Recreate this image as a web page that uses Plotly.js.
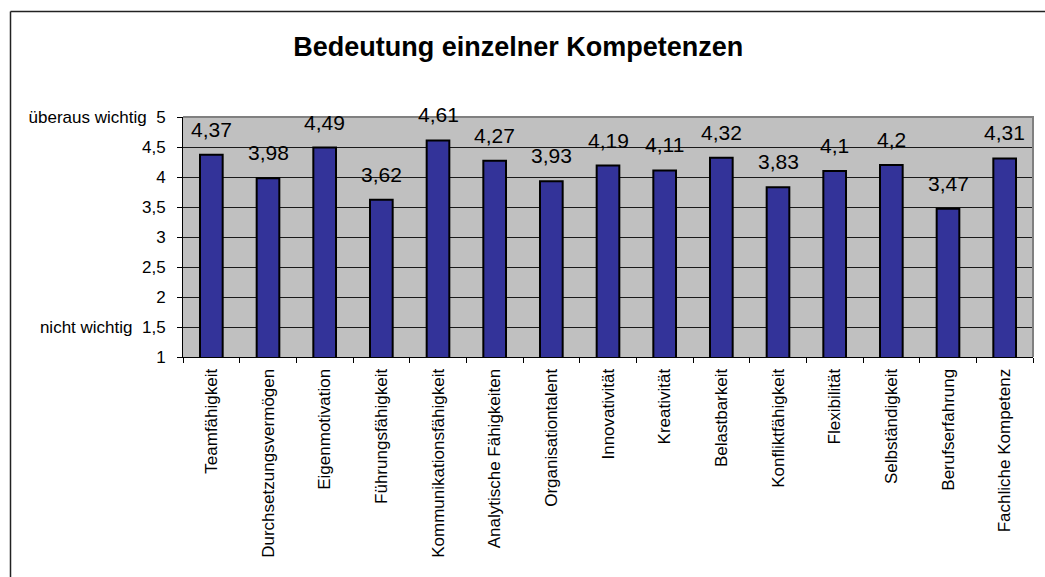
<!DOCTYPE html>
<html>
<head>
<meta charset="utf-8">
<script src="https://cdn.plot.ly/plotly-3.0.1.min.js"></script>
<style>html,body{margin:0;padding:0;background:#fff;}#chart{width:1045px;height:577px;}</style>
</head>
<body>
<div id="chart"></div>
<script>
const categories = ["Teamfähigkeit","Durchsetzungsvermögen","Eigenmotivation","Führungsfähigkeit","Kommunikationsfähigkeit","Analytische Fähigkeiten","Organisationtalent","Innovativität","Kreativität","Belastbarkeit","Konfliktfähigkeit","Flexibilität","Selbständigkeit","Berufserfahrung","Fachliche Kompetenz"];
const values = [4.37,3.98,4.49,3.62,4.61,4.27,3.93,4.19,4.11,4.32,3.83,4.1,4.2,3.47,4.31];
const yTickVals = [1,1.5,2,2.5,3,3.5,4,4.5,5];
const yTickText = ["1","nicht wichtig\u00a0\u00a01,5","2","2,5","3","3,5","4","4,5","überaus wichtig\u00a0\u00a05"];
const titleText = "Bedeutung einzelner Kompetenzen";

const fmt = v => String(v).replace('.', ',');

const trace = {
  type: 'bar',
  x: categories,
  y: values,
  base: 0,
  marker: {color: '#333399', line: {color: '#000000', width: 2}},
  hoverinfo: 'skip'
};

const annotations = categories.map((c, i) => ({
  x: c, y: values[i], xref: 'x', yref: 'y',
  text: fmt(values[i]), showarrow: false,
  yanchor: 'bottom', yshift: 12,
  font: {family: 'Arial, Liberation Sans, sans-serif', size: 21, color: '#000'}
}));

const L = 183, R = 1033, T = 117, B = 357;
const pw = R - L, ph = B - T;
const fx = px => (px - L) / pw;
const fy = py => (B - py) / ph;

const layout = {
  width: 1045, height: 577,
  margin: {l: L, r: 1045 - R, t: T, b: 577 - B, pad: 0},
  paper_bgcolor: '#ffffff',
  plot_bgcolor: '#c0c0c0',
  showlegend: false,
  bargap: 0.6,
  font: {family: 'Arial, Liberation Sans, sans-serif', color: '#000'},
  title: {
    text: '<b>' + titleText + '</b>',
    font: {family: 'Arial, Liberation Sans, sans-serif', size: 27, color: '#000'},
    x: 0.496, xref: 'container', xanchor: 'center',
    y: 1 - 47 / 577, yref: 'container', yanchor: 'middle'
  },
  xaxis: {
    type: 'category',
    tickangle: -90,
    tickfont: {size: 17, color: '#000'},
    ticks: 'outside', ticklen: 5, tickcolor: '#000', tickwidth: 1,
    tickson: 'boundaries',
    showline: true, linecolor: '#000', linewidth: 1,
    showgrid: false, zeroline: false,
    ticklabelstandoff: 4,
    fixedrange: true
  },
  yaxis: {
    range: [1, 5],
    tickvals: yTickVals, ticktext: yTickText,
    tickfont: {size: 17, color: '#000'},
    ticks: 'outside', ticklen: 5, tickcolor: '#000', tickwidth: 1,
    showline: true, linecolor: '#000', linewidth: 1,
    showgrid: true, gridcolor: '#1a1a1a', gridwidth: 1,
    zeroline: false,
    ticklabelstandoff: 8,
    fixedrange: true
  },
  annotations: annotations,
  shapes: [
    {type: 'path', xref: 'paper', yref: 'paper', layer: 'above',
     path: `M 0 1 L 1 1 L 1 0`, line: {color: '#808080', width: 2}},
    {type: 'line', xref: 'paper', yref: 'paper', layer: 'above',
     x0: fx(10.5), x1: fx(10.5), y0: fy(600), y1: fy(11.5), line: {color: '#222', width: 1.5}},
    {type: 'line', xref: 'paper', yref: 'paper', layer: 'above',
     x0: fx(10.5), x1: fx(1060), y0: fy(11.5), y1: fy(11.5), line: {color: '#222', width: 1.5}}
  ]
};

Plotly.newPlot('chart', [trace], layout, {displayModeBar: false, staticPlot: true});
</script>
</body>
</html>
